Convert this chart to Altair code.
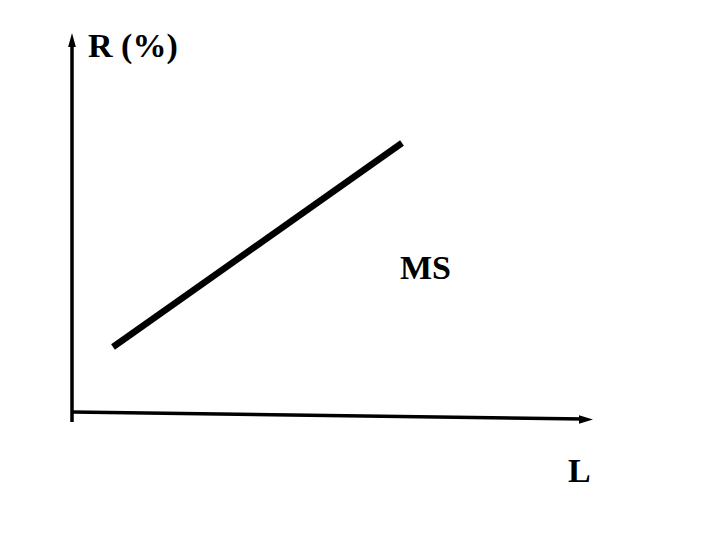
import altair as alt
import pandas as pd

# Schematic coordinates in (L, R) units, origin at the axes' intersection
ms_L = [41, 330]
ms_R = [65, 269]
yaxis_L = [0, 0]
yaxis_R = [-10, 368]
xaxis_L = [0, 512]
xaxis_R = [0, -7]
arrow_L = [0, 514]
arrow_R = [372, -7.5]
arrow_shape = ["M0,-1L-0.55,1L0.55,1Z", "M1,0L-1,-0.6L-1,0.6Z"]
labels = ["R (%)", "MS", "L"]
label_L = [16, 328, 496]
label_R = [355, 133, -70]

xs = alt.Scale(domain=[-64, 640], nice=False, zero=False)
ys = alt.Scale(domain=[-120, 404], nice=False, zero=False)

segs = pd.DataFrame({
    "x": [yaxis_L[0], xaxis_L[0]], "x2": [yaxis_L[1], xaxis_L[1]],
    "y": [yaxis_R[0], xaxis_R[0]], "y2": [yaxis_R[1], xaxis_R[1]],
})
ms = pd.DataFrame({"x": [ms_L[0]], "x2": [ms_L[1]], "y": [ms_R[0]], "y2": [ms_R[1]]})
arrows = pd.DataFrame({"x": arrow_L, "y": arrow_R, "shape": arrow_shape})
txt = pd.DataFrame({"x": label_L, "y": label_R, "t": labels})

axes = alt.Chart(segs).mark_rule(color="black", strokeWidth=3.5, strokeCap="butt").encode(
    x=alt.X("x:Q", scale=xs, axis=None), x2="x2:Q",
    y=alt.Y("y:Q", scale=ys, axis=None), y2="y2:Q")

line = alt.Chart(ms).mark_rule(color="black", strokeWidth=6.5, strokeCap="butt").encode(
    x=alt.X("x:Q", scale=xs, axis=None), x2="x2:Q",
    y=alt.Y("y:Q", scale=ys, axis=None), y2="y2:Q")

heads = alt.Chart(arrows).mark_point(filled=True, color="black", opacity=1, size=196).encode(
    x=alt.X("x:Q", scale=xs, axis=None),
    y=alt.Y("y:Q", scale=ys, axis=None),
    shape=alt.Shape("shape:N", scale=None, legend=None))

text = alt.Chart(txt).mark_text(
    align="left", baseline="alphabetic", font="Liberation Serif",
    fontSize=34, fontWeight="bold", color="black").encode(
    x=alt.X("x:Q", scale=xs, axis=None),
    y=alt.Y("y:Q", scale=ys, axis=None),
    text="t:N")

chart = alt.layer(axes, line, heads, text).properties(
    width=704, height=524, autosize=alt.AutoSizeParams(type="none"), padding=0
).configure_view(stroke=None)

chart.save("out.html", embed_options={"renderer": "svg", "actions": False})
